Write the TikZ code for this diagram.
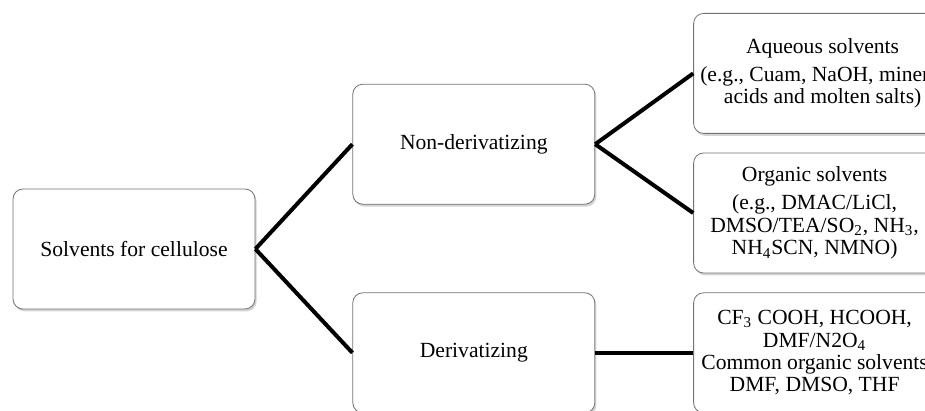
\documentclass[tikz,border=0pt]{standalone}
\usepackage{fontspec}
\setmainfont{Liberation Serif}
\usetikzlibrary{positioning,shadows}
\usetikzlibrary{bayesnet}

\tikzset{
  solbox/.style={draw=black!55, rounded corners=5pt, fill=white,
    minimum width=121pt, minimum height=60pt, align=center,
    font=\fontsize{10.8}{11.2}\selectfont,
    drop shadow={shadow xshift=0.8pt, shadow yshift=-1.2pt, opacity=0.35}},
  link/.style={-, line width=2pt, black}
}

\begin{document}
\begin{tikzpicture}[x=0.5pt, y=-0.5pt]
			\useasboundingbox (0,0) rectangle (925,411) ;
			\node[solbox] (Solvents) at (134,249) {Solvents for cellulose} ;
			\node[solbox, above right=-8pt and 48.5pt of Solvents] (NonDeriv) {Non-derivatizing} ;
			\node[solbox, below right=-8.5pt and 48.5pt of Solvents] (Deriv) {Derivatizing} ;
			\node[solbox, above right=-25pt and 49pt of NonDeriv] (Aqueous) {Aqueous solvents\\[3pt]
				(e.g., Cuam, NaOH, mineral\\ acids and molten salts)} ;
			\node[solbox, below right=-26pt and 49pt of NonDeriv] (Organic) {Organic solvents\\[3pt]
				(e.g., DMAC/LiCl,\\ DMSO/TEA/SO\textsubscript{2}, NH\textsubscript{3},\\ NH\textsubscript{4}SCN, NMNO)} ;
			\node[solbox, right=49pt of Deriv] (Common) {CF\textsubscript{3} COOH, HCOOH,\\ DMF/N2O\textsubscript{4}\\
				Common organic solvents\\ DMF, DMSO, THF} ; %
			\edge [link] {Solvents.east} {NonDeriv.west,Deriv.west} ;
			\edge [link] {NonDeriv.east} {Aqueous.west,Organic.west} ;
			\edge [link] {Deriv.east} {Common.west} ;
		\end{tikzpicture}
\end{document}
